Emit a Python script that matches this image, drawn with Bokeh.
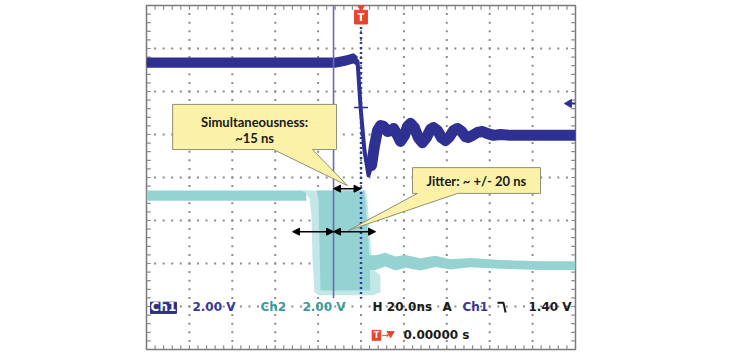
import numpy as np
from bokeh.plotting import figure
from bokeh.models import Range1d, Arrow, NormalHead
from bokeh.core.properties import value
from bokeh.embed import file_html
from bokeh.resources import INLINE

# ---- data: time in ns (20 ns/div, trigger at 0), vertical in divisions ----
ch1_t = [-100, -12.0, -7.2, -3.5, -1.6, -0.2, 1.6, 3.5, 4.9, 6.3, 7.7, 9.1, 10.5, 12.4, 13.8,
         15.2, 16.6, 18.4, 20.3, 21.7, 23.1, 24.9, 26.7, 28.6, 30.5, 32.4, 33.8, 35.7, 37.5,
         39.4, 41.3, 43.1, 45.0, 46.9, 48.7, 50.1, 52.0, 54.3, 56.6, 59.0, 61.8, 65.0, 69.7,
         79.0, 100]
ch1_v = [2.67, 2.67, 2.72, 2.77, 2.70, 1.63, 0.63, 0.05, 0.28, 0.74, 1.09, 1.21, 1.19, 1.07, 1.09,
         1.14, 1.02, 0.84, 0.98, 1.19, 1.26, 1.16, 0.93, 0.81, 0.93, 1.12, 1.16, 1.09, 0.93,
         0.86, 0.95, 1.09, 1.14, 1.07, 0.95, 0.93, 0.98, 1.05, 1.07, 1.02, 0.98, 1.00, 0.98,
         0.98, 0.98]
ch1_spread = 0.12

ch2_high_t = [-100, -25.5]
ch2_high_v = [-0.42, -0.42]
ch2_low_t = [3.5, 6.8, 11.4, 16.1, 20.7, 27.7, 34.7, 41.7, 51.0, 65.0, 83.7, 100]
ch2_low_v = [-1.98, -1.98, -1.91, -2.00, -1.95, -2.02, -1.95, -2.02, -1.98, -2.02, -2.05, -2.05]
ch2_low_spread = [0.17, 0.17, 0.16, 0.16, 0.15, 0.14, 0.13, 0.12, 0.11, 0.10, 0.10, 0.10]
# jitter envelope of the Ch2 falling edges (persistence)
ch2_env_t = [-28.2, -25.9, -24.0, -23.1, -22.6, -21.7, -19.8, 5.4, 9.1, 9.1, 5.4, 4.4, 3.0, 2.1]
ch2_env_v = [-0.30, -0.35, -0.49, -0.88, -1.93, -2.67, -2.74, -2.74, -2.67, -2.28, -2.12, -1.47, -0.53, -0.30]
ch2_core_t = [-20.7, 1.6, 3.5, 4.4, -18.9, -19.8]
ch2_core_v = [-0.30, -0.30, -1.47, -2.63, -2.63, -0.53]

cursor_t = -12.8
trigger_t = 0.0
trig_level_v = 1.63
ch1_level_marker_v = 1.72

# annotations
call1_t = [-87.8, -11.4, -11.4, -22.6, -6.3, -40.8, -87.8]
call1_v = [1.70, 1.70, 0.65, 0.65, -0.19, 0.65, 0.65]
call1_text = ["Simultaneousness:", "~15 ns"]
call2_t = [24.0, 83.7, 83.7, 45.0, -5.8, 26.3, 24.0]
call2_v = [0.23, 0.23, -0.37, -0.37, -1.23, -0.37, -0.37]
call2_text = ["Jitter: ~ +/- 20 ns"]
arrows = [(-12.8, 0.0, -0.26), (-31.9, -12.8, -1.26), (-12.8, 6.8, -1.26)]

row1_labels = ["2.00 V", "Ch2", "2.00 V", "H 20.0ns", "A", "Ch1", "1.40 V"]
row1_t = [-78.6, -46.9, -27.3, 5.4, 38.0, 47.3, 78.1]
row1_colors = ["#3a3795", "#3a9c9c", "#3a9c9c", "#1a1a1a", "#1a1a1a", "#3a3795", "#1a1a1a"]
row2_label = "0.00000 s"

CH1 = "#2e3092"
CH2 = "#95d3d3"
GRIDC = "#8c8c8c"

p = figure(width=742, height=354, x_range=Range1d(-100, 100), y_range=Range1d(-4, 4),
           min_border_left=146, min_border_right=167, min_border_top=5, min_border_bottom=5,
           x_axis_type=None, y_axis_type=None, toolbar_location=None, output_backend="svg")
p.grid.visible = False
p.outline_line_color = "#7a7a7a"
p.outline_line_width = 1.5
p.background_fill_color = "white"
p.border_fill_color = "white"

# ---- graticule: dotted lines with dots every 1/5 division ----
gx, gy = [], []
for row in range(-3, 4):
    xs = np.arange(-100, 100.01, 4.0)
    gx += list(xs); gy += [row] * len(xs)
for col in range(-4, 5):
    ys = np.arange(-4, 4.01, 0.2)
    gx += [col * 20.0] * len(ys); gy += list(ys)
p.scatter(gx, gy, marker="square", size=2, color=GRIDC, line_color=None)

# border ticks
tx = np.arange(-96, 100, 4.0)
ty = np.arange(-3.8, 4, 0.2)
p.segment(x0=list(tx), y0=[4.0] * len(tx), x1=list(tx), y1=[3.9] * len(tx), line_color=GRIDC, line_width=1.2)
p.segment(x0=list(tx), y0=[-4.0] * len(tx), x1=list(tx), y1=[-3.9] * len(tx), line_color=GRIDC, line_width=1.2)
p.segment(x0=[-100] * len(ty), y0=list(ty), x1=[-98] * len(ty), y1=list(ty), line_color=GRIDC, line_width=1.2)
p.segment(x0=[100] * len(ty), y0=list(ty), x1=[98] * len(ty), y1=list(ty), line_color=GRIDC, line_width=1.2)

# ---- Ch2 (persistence) ----
h = np.array(ch2_high_v)
p.varea(x=ch2_high_t, y1=list(h - 0.12), y2=list(h + 0.12), fill_color=CH2)
p.patch(ch2_env_t, ch2_env_v, fill_color="#c3e7e7", line_color=None)
p.patch(ch2_core_t, ch2_core_v, fill_color=CH2, line_color=None)
lv = np.array(ch2_low_v); ls = np.array(ch2_low_spread)
p.varea(x=ch2_low_t, y1=list(lv - ls), y2=list(lv + ls), fill_color=CH2)

# ---- Ch1 ----
c1 = np.array(ch1_v)
edge = 7  # index of the edge minimum
p.varea(x=ch1_t[:5], y1=list(c1[:5] - ch1_spread), y2=list(c1[:5] + ch1_spread), fill_color=CH1)
p.line(ch1_t, ch1_v, line_color=CH1, line_width=4, line_join="round")
p.line(ch1_t[edge + 1:], ch1_v[edge + 1:], line_color=CH1, line_width=11, line_join="round", line_cap="round")
p.scatter([trigger_t], [trig_level_v], marker="cross", size=14, line_color=CH1, line_width=1.5)
# Ch1 trigger-level marker at the right edge
p.scatter([97.0], [ch1_level_marker_v], marker="triangle", angle=np.pi / 2, size=8,
          fill_color=CH1, line_color=CH1)
p.segment(x0=[97.0], y0=[ch1_level_marker_v], x1=[100], y1=[ch1_level_marker_v], line_color=CH1, line_width=2)

# ---- cursor and trigger lines ----
p.segment(x0=[cursor_t], y0=[4.0], x1=[cursor_t], y1=[-2.81], line_color="#6e6aae", line_width=1.6)
p.segment(x0=[trigger_t], y0=[3.5], x1=[trigger_t], y1=[-2.81], line_color="#2b3a9e",
          line_width=2.5, line_dash="2 3")
# trigger position marker
p.scatter([trigger_t], [3.96], marker="inverted_triangle", size=7, fill_color="#e4452c", line_color="#e4452c")
p.rect([trigger_t], [3.73], width=6.0, height=0.32, fill_color="#e4452c", line_color="#e4452c")
p.text([trigger_t], [3.72], text=["T"], text_color="white", text_font=value("DejaVu Sans"),
       text_font_style="bold", text_font_size="10px", text_align="center", text_baseline="middle")

# ---- arrows ----
for x0, x1, yv in arrows:
    p.add_layout(Arrow(x_start=x0, y_start=yv, x_end=x1, y_end=yv, line_color="black", line_width=1.5,
                       start=NormalHead(size=7, fill_color="black", line_color="black"),
                       end=NormalHead(size=7, fill_color="black", line_color="black")))

# ---- callouts ----
p.patch(call1_t, call1_v, fill_color="#fbf2a8", line_color="#8f8f78", line_width=1)
p.patch(call2_t, call2_v, fill_color="#fbf2a8", line_color="#8f8f78", line_width=1)
p.text([-49.6, -49.6], [1.30, 0.91], text=call1_text, text_color="#1a1a1a", text_font=value("Lato"),
       text_font_style="bold", text_font_size="13px", text_align="center", text_baseline="middle")
p.text([53.8], [-0.09], text=call2_text, text_color="#1a1a1a", text_font=value("Lato"),
       text_font_style="bold", text_font_size="13px", text_align="center", text_baseline="middle")

# ---- status line ----
p.rect([-92.1], [-3.03], width=12.1, height=0.26, fill_color="#2d2f80", line_color="#2d2f80")
p.text([-92.1], [-3.02], text=["Ch1"], text_color="white", text_font=value("DejaVu Sans"),
       text_font_style="bold", text_font_size="12px", text_align="center", text_baseline="middle")
p.text(row1_t, [-3.02] * len(row1_t), text=row1_labels, text_color=row1_colors,
       text_font=value("DejaVu Sans"), text_font_style="bold", text_font_size="12px",
       text_align="left", text_baseline="middle")
# falling edge symbol
p.line([63.6, 66.4, 67.4], [-2.91, -2.91, -3.14], line_color="#1a1a1a", line_width=2)
# row 2
p.rect([7.2], [-3.67], width=4.0, height=0.23, fill_color="#e4452c", line_color="#e4452c")
p.text([7.2], [-3.67], text=["T"], text_color="white", text_font=value("DejaVu Sans"),
       text_font_style="bold", text_font_size="8px", text_align="center", text_baseline="middle")
p.text([9.6], [-3.66], text=["\u2192"], text_color="#e4452c", text_font=value("DejaVu Sans"),
       text_font_size="9px", text_align="left", text_baseline="middle")
p.scatter([13.8], [-3.63], marker="inverted_triangle", size=7, fill_color="#e4452c", line_color="#e4452c")
p.text([19.8], [-3.67], text=[row2_label], text_color="#1a1a1a", text_font=value("DejaVu Sans"),
       text_font_style="bold", text_font_size="12px", text_align="left", text_baseline="middle")

open("out.html", "w").write(file_html(p, INLINE))
